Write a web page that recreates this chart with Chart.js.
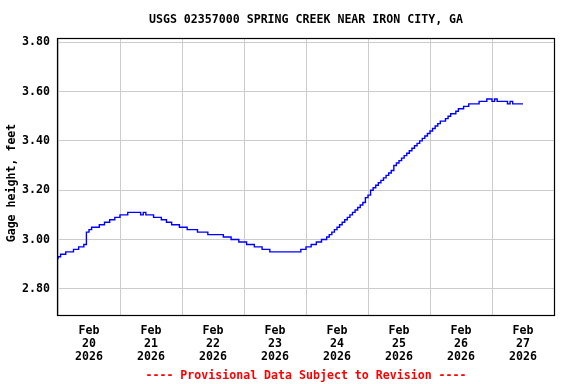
<!DOCTYPE html>
<html>
<head>
<title>USGS 02357000 Spring Creek near Iron City, GA</title>
<script src="https://cdn.jsdelivr.net/npm/chart.js"></script>
<style>
  body { margin: 0; background: #ffffff; }
  #chart { display: block; }
</style>
</head>
<body>
<canvas id="chart" width="576" height="384"></canvas>
<script>
const titleText = 'USGS 02357000 SPRING CREEK NEAR IRON CITY, GA';
const yAxisTitle = 'Gage height, feet';
const footerText = '---- Provisional Data Subject to Revision ----';
const monthLabel = 'Feb';
const yearLabel = '2026';
const dayLabels = ['20', '21', '22', '23', '24', '25', '26', '27'];
const yTicks = [2.80, 3.00, 3.20, 3.40, 3.60, 3.80];

// hourly gage height (feet), first reading Feb 20 00:00, last Feb 27 12:00
const gageHeight = [
  2.92, 2.93, 2.94, 2.94, 2.95, 2.95, 2.95, 2.96, 2.96, 2.97, 2.97, 2.98,
  3.03, 3.04, 3.05, 3.05, 3.05, 3.06, 3.06, 3.07, 3.07, 3.08, 3.08, 3.09,
  3.09, 3.10, 3.10, 3.10, 3.11, 3.11, 3.11, 3.11, 3.11, 3.10, 3.11, 3.10,
  3.10, 3.10, 3.09, 3.09, 3.09, 3.08, 3.08, 3.07, 3.07, 3.06, 3.06, 3.06,
  3.05, 3.05, 3.05, 3.04, 3.04, 3.04, 3.04, 3.03, 3.03, 3.03, 3.03, 3.02,
  3.02, 3.02, 3.02, 3.02, 3.02, 3.01, 3.01, 3.01, 3.00, 3.00, 3.00, 2.99,
  2.99, 2.99, 2.98, 2.98, 2.98, 2.97, 2.97, 2.97, 2.96, 2.96, 2.96, 2.95,
  2.95, 2.95, 2.95, 2.95, 2.95, 2.95, 2.95, 2.95, 2.95, 2.95, 2.95, 2.96,
  2.96, 2.97, 2.97, 2.98, 2.98, 2.99, 2.99, 3.00, 3.00, 3.01, 3.02, 3.03,
  3.04, 3.05, 3.06, 3.07, 3.08, 3.09, 3.10, 3.11, 3.12, 3.13, 3.14, 3.15,
  3.17, 3.18, 3.20, 3.21, 3.22, 3.23, 3.24, 3.25, 3.26, 3.27, 3.28, 3.30,
  3.31, 3.32, 3.33, 3.34, 3.35, 3.36, 3.37, 3.38, 3.39, 3.40, 3.41, 3.42,
  3.43, 3.44, 3.45, 3.46, 3.47, 3.48, 3.48, 3.49, 3.50, 3.51, 3.51, 3.52,
  3.53, 3.53, 3.54, 3.54, 3.55, 3.55, 3.55, 3.55, 3.56, 3.56, 3.56, 3.57,
  3.57, 3.56, 3.57, 3.56, 3.56, 3.56, 3.56, 3.55, 3.56, 3.55, 3.55, 3.55,
  3.55
];

const FONT_FAMILY = '"DejaVu Sans Mono", monospace';
const FONT_SIZE = 11.6;

// outer texts and the plot frame
const usgsFrame = {
  id: 'usgsFrame',
  beforeDraw(chart) {
    const ctx = chart.ctx;
    ctx.save();
    ctx.fillStyle = '#ffffff';
    ctx.fillRect(0, 0, chart.width, chart.height);
    ctx.restore();
  },
  afterDraw(chart) {
    const { ctx, chartArea: a } = chart;
    const cx = (a.left + a.right) / 2;
    ctx.save();
    ctx.strokeStyle = '#000000';
    ctx.lineWidth = 1.2;
    ctx.strokeRect(a.left - 0.5, a.top - 0.5, a.right - a.left + 1, a.bottom - a.top + 1);

    ctx.font = 'bold ' + FONT_SIZE + 'px ' + FONT_FAMILY;
    ctx.textAlign = 'center';
    ctx.textBaseline = 'middle';
    ctx.fillStyle = '#000000';
    ctx.fillText(titleText, cx, 20);

    ctx.fillStyle = '#ff0000';
    ctx.fillText(footerText, cx, 376);

    ctx.translate(12, 183);
    ctx.rotate(-Math.PI / 2);
    ctx.fillStyle = '#000000';
    ctx.fillText(yAxisTitle, 0, 0);
    ctx.restore();
  }
};

new Chart(document.getElementById('chart'), {
  type: 'line',
  data: {
    datasets: [{
      data: gageHeight.map((v, i) => ({ x: i, y: v })),
      borderColor: '#0000ff',
      borderWidth: 1.4,
      pointRadius: 0,
      stepped: 'after',
      fill: false
    }]
  },
  options: {
    responsive: false,
    animation: false,
    layout: { padding: { top: 39, left: 0, right: 22, bottom: 20 } },
    plugins: {
      legend: { display: false },
      tooltip: { enabled: false }
    },
    scales: {
      x: {
        type: 'linear',
        min: 0,
        max: 192,
        afterFit(scale) { scale.height = 49; },
        afterBuildTicks(scale) {
          const t = [];
          for (let h = 0; h <= 192; h += 12) t.push({ value: h });
          scale.ticks = t;
        },
        grid: {
          drawTicks: false,
          color: ctx => (ctx.tick && ctx.tick.value % 24 === 0) ? '#cccccc' : 'rgba(0,0,0,0)',
          lineWidth: 1
        },
        border: { display: false },
        ticks: {
          autoSkip: false,
          maxRotation: 0,
          padding: 10,
          color: '#000000',
          font: { family: FONT_FAMILY, size: FONT_SIZE, weight: 'bold', lineHeight: 1.1 },
          callback(value) {
            if (value % 24 !== 12) return '';
            return [monthLabel, dayLabels[(value - 12) / 24], yearLabel];
          }
        }
      },
      y: {
        min: 2.694,
        max: 3.813,
        afterFit(scale) { scale.width = 58; },
        afterBuildTicks(scale) {
          scale.ticks = yTicks.map(v => ({ value: v }));
        },
        grid: { drawTicks: false, color: '#cccccc', lineWidth: 1 },
        border: { display: false },
        ticks: {
          padding: 8,
          color: '#000000',
          font: { family: FONT_FAMILY, size: FONT_SIZE, weight: 'bold' },
          callback: v => v.toFixed(2)
        }
      }
    }
  },
  plugins: [usgsFrame]
});
</script>
</body>
</html>
